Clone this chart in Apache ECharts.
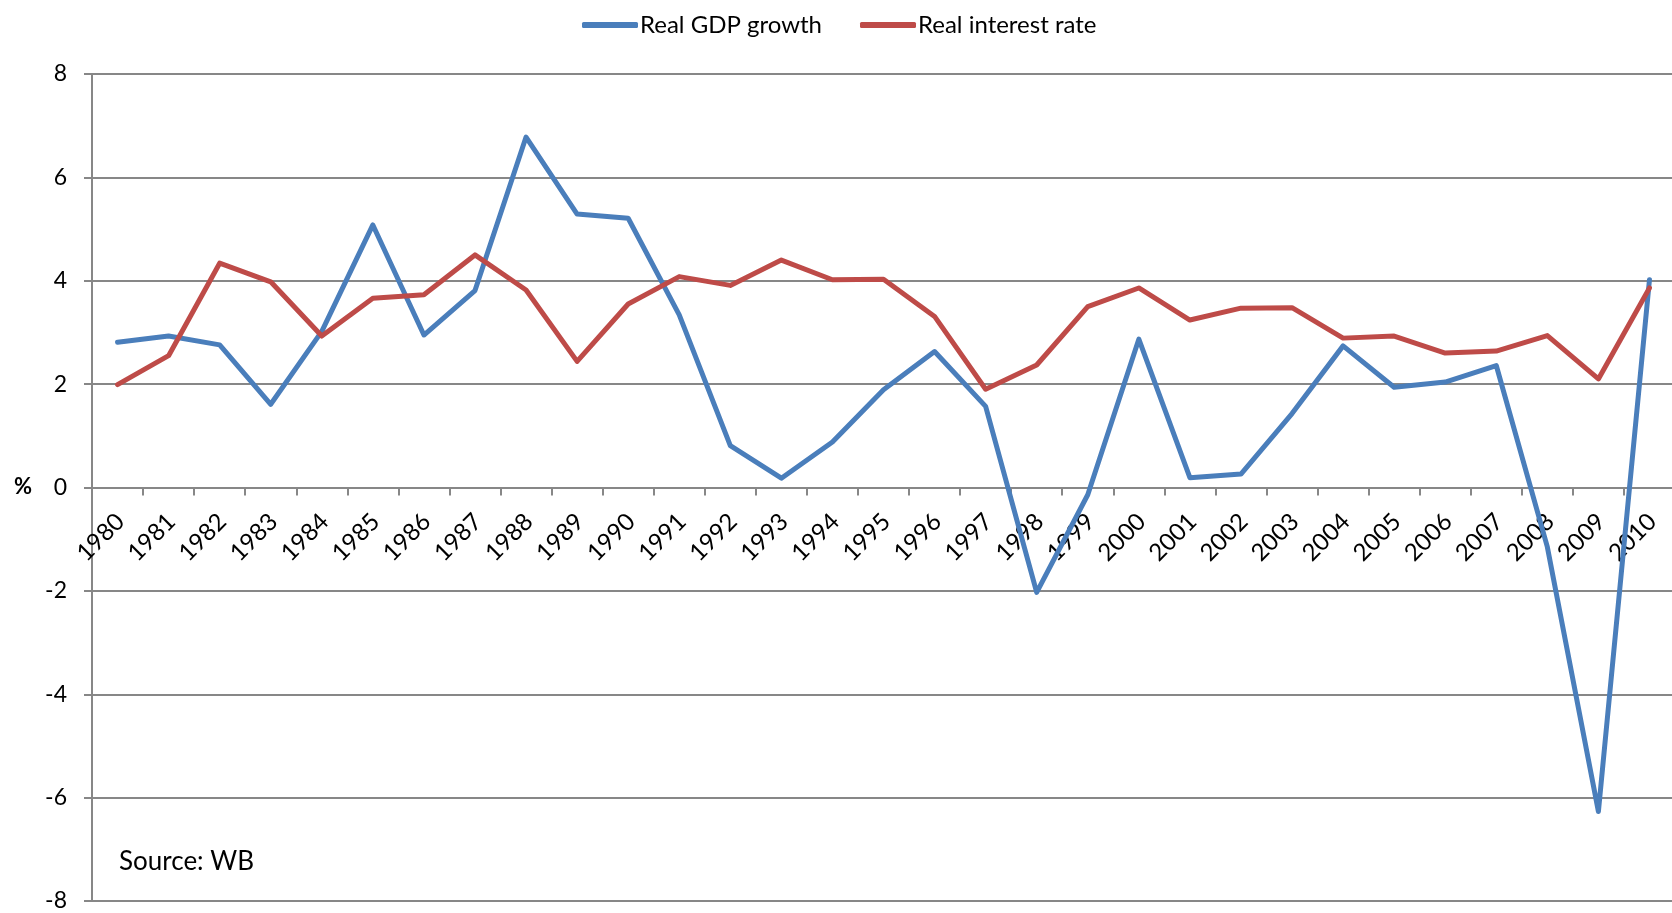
<!DOCTYPE html>
<html>
<head>
<meta charset="utf-8">
<script src="https://cdn.jsdelivr.net/npm/echarts@6/dist/echarts.min.js"></script>
<style>
html,body{margin:0;padding:0;background:#fff;}
#chart{width:1672px;height:913px;}
</style>
</head>
<body>
<div id="chart"></div>
<script>
const years = ['1980','1981','1982','1983','1984','1985','1986','1987','1988','1989','1990','1991','1992','1993','1994','1995','1996','1997','1998','1999','2000','2001','2002','2003','2004','2005','2006','2007','2008','2009','2010'];
const realGdpGrowth = [2.81,2.93,2.76,1.61,3.02,5.08,2.95,3.81,6.78,5.29,5.21,3.34,0.81,0.18,0.88,1.89,2.63,1.57,-2.03,-0.14,2.87,0.19,0.26,1.43,2.74,1.94,2.04,2.36,-1.15,-6.27,4.02];
const realInterestRate = [1.99,2.55,4.34,3.98,2.93,3.66,3.73,4.50,3.82,2.44,3.55,4.08,3.91,4.40,4.02,4.03,3.31,1.90,2.37,3.50,3.86,3.24,3.47,3.48,2.89,2.93,2.60,2.64,2.94,2.10,3.86];
const yTicks = {min: -8, max: 8, interval: 2};
const seriesNames = ['Real GDP growth', 'Real interest rate'];

const FONT = 'Lato';
const GRID = '#878787';
const GRID_H = 827;
const chart = echarts.init(document.getElementById('chart'), null, {renderer: 'canvas'});
chart.setOption({
  animation: false,
  backgroundColor: '#ffffff',
  color: ['#4A7EBB', '#BE4B48'],
  legend: {
    top: 8,
    left: 577,
    icon: 'roundRect',
    itemWidth: 56,
    itemHeight: 6,
    itemGap: 38,
    textStyle: {fontFamily: FONT, fontSize: 24, color: '#000', padding: [0, 0, 0, -3]},
    data: seriesNames
  },
  grid: {left: 92, top: 74, width: 1583, height: GRID_H, containLabel: false, outerBoundsMode: 'none'},
  xAxis: {
    type: 'category',
    data: years,
    boundaryGap: true,
    offset: -GRID_H / 2,
    axisLine: {onZero: false, lineStyle: {color: GRID, width: 2}},
    axisTick: {show: true, length: 8, lineStyle: {color: GRID, width: 2}},
    axisLabel: {rotate: 45, interval: 0, margin: 33, padding: [0, -4, 0, 0], fontFamily: FONT, fontSize: 24, color: '#000'},
    splitLine: {show: false}
  },
  yAxis: {
    type: 'value',
    min: yTicks.min,
    max: yTicks.max,
    interval: yTicks.interval,
    axisLine: {show: true, lineStyle: {color: GRID, width: 2}},
    axisTick: {show: true, length: 8, lineStyle: {color: GRID, width: 2}},
    axisLabel: {margin: 25, fontFamily: FONT, fontSize: 23, color: '#000'},
    splitLine: {show: true, lineStyle: {color: GRID, width: 2}}
  },
  graphic: [
    {type: 'text', left: 14, top: 476, style: {text: '%', font: 'bold 22px ' + FONT, fill: '#000'}},
    {type: 'text', left: 119, top: 849, style: {text: 'Source: WB', font: '26px ' + FONT, fill: '#000'}}
  ],
  series: [
    {name: seriesNames[0], type: 'line', data: realGdpGrowth, showSymbol: false, symbol: 'none',
     lineStyle: {width: 5, cap: 'round', join: 'round'}},
    {name: seriesNames[1], type: 'line', data: realInterestRate, showSymbol: false, symbol: 'none',
     lineStyle: {width: 5, cap: 'round', join: 'round'}}
  ]
});
</script>
</body>
</html>
